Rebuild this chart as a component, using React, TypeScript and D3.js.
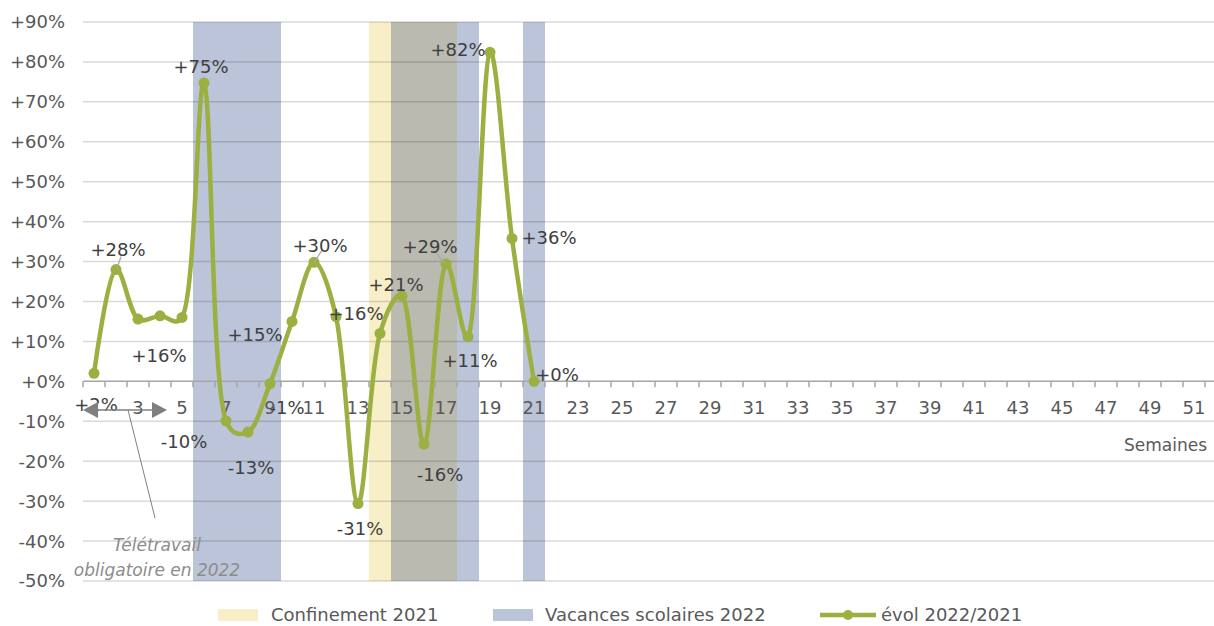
import React, { useEffect, useRef } from 'react';
import * as d3 from 'd3';

// semaines 1..52
const weeks = d3.range(1, 53);
// évolution 2022/2021 (%) semaines 1 à 21
const evol = [2, 28, 15.6, 16.4, 16, 74.7, -9.9, -12.7, -0.6, 15, 29.8, 16.2, -30.6, 12, 21.4, -15.7, 29.4, 11.2, 82.4, 35.8, 0];
const confinementWeeks = [14, 15, 16, 17];
const vacancesWeeks = [6, 7, 8, 9, 15, 16, 17, 18, 21];
const yTicks = [90, 80, 70, 60, 50, 40, 30, 20, 10, 0, -10, -20, -30, -40, -50];

// position des étiquettes : [semaine, dx, dy]
const labelOffsets = [
  [1, 2, 31], [2, 2, -20], [4, -1, 40], [6, -3, -17], [7, -42, 21], [8, 3, 35],
  [9, 17, 24], [10, -37, 13], [11, 6, -17], [12, 20, -3], [13, 2, 25], [15, -6, -11],
  [16, 16, 30], [17, -16, -17], [18, 2, 24], [19, -32, -3], [20, 37, -1], [21, 23, -7],
];
const leaderLines = [
  [2, 1, -1, 5, -13], [11, 0, 0, 8, -12], [17, -1, 0, -13, -15],
];

const width = 1214;
const height = 626;
const left = 83;
const top = 22;
const bottom = 581;

const green = '#9bb040';
const yellow = '#f8eec7';
const blue = '#bbc4d8';
const overlap = '#babab0';
const font = 'DejaVu Sans, sans-serif';

export default function App() {
  const ref = useRef<SVGSVGElement>(null);

  useEffect(() => {
    const svg = d3.select(ref.current);
    svg.selectAll('*').remove();

    const x = d3.scaleBand<number>().domain(weeks).range([left, left + weeks.length * 22]);
    const y = d3.scaleLinear().domain([-50, 90]).range([bottom, top]);
    const cx = (w: number) => (x(w) as number) + x.bandwidth() / 2;
    const pct = (v: number) => (Math.round(v) >= 0 ? '+' : '-') + Math.abs(Math.round(v)) + '%';

    // bandes
    svg
      .append('g')
      .selectAll('rect')
      .data(confinementWeeks.filter((w) => !vacancesWeeks.includes(w)))
      .enter()
      .append('rect')
      .attr('x', (w) => x(w) as number)
      .attr('y', top)
      .attr('width', x.bandwidth())
      .attr('height', bottom - top)
      .attr('fill', yellow);

    svg
      .append('g')
      .selectAll('rect')
      .data(vacancesWeeks)
      .enter()
      .append('rect')
      .attr('x', (w) => x(w) as number)
      .attr('y', top)
      .attr('width', x.bandwidth())
      .attr('height', bottom - top)
      .attr('fill', (w) => (confinementWeeks.includes(w) ? overlap : blue));

    // grille
    svg
      .append('g')
      .selectAll('line')
      .data(yTicks.filter((t) => t !== 0))
      .enter()
      .append('line')
      .attr('x1', left)
      .attr('x2', width)
      .attr('y1', (t) => y(t))
      .attr('y2', (t) => y(t))
      .attr('stroke', '#000')
      .attr('stroke-opacity', 0.15)
      .attr('stroke-width', 1.5);

    // axe Y
    svg
      .append('g')
      .selectAll('text')
      .data(yTicks)
      .enter()
      .append('text')
      .attr('x', 65)
      .attr('y', (t) => y(t))
      .attr('dy', '0.36em')
      .attr('text-anchor', 'end')
      .attr('font-family', font)
      .attr('font-size', 18)
      .attr('fill', '#595959')
      .text((t) => (t < 0 ? '-' : '+') + Math.abs(t) + '%');

    // axe X
    const xAxis = svg.append('g').attr('transform', 'translate(0,' + y(0) + ')');
    xAxis
      .append('line')
      .attr('x1', left)
      .attr('x2', width)
      .attr('stroke', '#a6a6a6')
      .attr('stroke-width', 1.5);
    xAxis
      .selectAll('line.tick')
      .data(weeks.concat([weeks.length + 1]))
      .enter()
      .append('line')
      .attr('class', 'tick')
      .attr('x1', (w) => left + (w - 1) * x.step())
      .attr('x2', (w) => left + (w - 1) * x.step())
      .attr('y1', 0)
      .attr('y2', 6)
      .attr('stroke', '#a6a6a6')
      .attr('stroke-width', 1.5);
    xAxis
      .selectAll('text')
      .data(weeks.filter((w) => w % 2 === 1 && w > 1))
      .enter()
      .append('text')
      .attr('x', (w) => cx(w))
      .attr('y', 33)
      .attr('text-anchor', 'middle')
      .attr('font-family', font)
      .attr('font-size', 18)
      .attr('fill', '#595959')
      .text((w) => w);

    svg
      .append('text')
      .attr('x', 1207)
      .attr('y', 451)
      .attr('text-anchor', 'end')
      .attr('font-family', font)
      .attr('font-size', 17)
      .attr('fill', '#595959')
      .text('Semaines');

    // courbe lissée
    const line = d3
      .line<number>()
      .x((d, i) => cx(weeks[i]))
      .y((d) => y(d))
      .curve(d3.curveCatmullRom.alpha(0.35));

    svg
      .append('path')
      .datum(evol)
      .attr('d', line)
      .attr('fill', 'none')
      .attr('stroke', green)
      .attr('stroke-width', 4.5)
      .attr('stroke-linejoin', 'round');

    svg
      .append('g')
      .selectAll('circle')
      .data(evol)
      .enter()
      .append('circle')
      .attr('cx', (d, i) => cx(weeks[i]))
      .attr('cy', (d) => y(d))
      .attr('r', 5.5)
      .attr('fill', green);

    // lignes de rappel
    svg
      .append('g')
      .selectAll('line')
      .data(leaderLines)
      .enter()
      .append('line')
      .attr('x1', (l) => cx(l[0]) + l[1])
      .attr('y1', (l) => y(evol[l[0] - 1]) + l[2])
      .attr('x2', (l) => cx(l[0]) + l[3])
      .attr('y2', (l) => y(evol[l[0] - 1]) + l[4])
      .attr('stroke', '#a6a6a6')
      .attr('stroke-width', 1.2);

    // étiquettes
    svg
      .append('g')
      .selectAll('text')
      .data(labelOffsets)
      .enter()
      .append('text')
      .attr('x', (l) => cx(l[0]) + l[1])
      .attr('y', (l) => y(evol[l[0] - 1]) + l[2])
      .attr('dy', '0.36em')
      .attr('text-anchor', 'middle')
      .attr('font-family', font)
      .attr('font-size', 18)
      .attr('fill', '#404040')
      .text((l) => pct(evol[l[0] - 1]));

    // annotation télétravail
    const ann = svg.append('g').attr('fill', '#7f7f7f');
    ann
      .append('line')
      .attr('x1', left + 12)
      .attr('x2', 167 - 12)
      .attr('y1', 410)
      .attr('y2', 410)
      .attr('stroke', '#7f7f7f')
      .attr('stroke-width', 1.5);
    ann.append('path').attr('d', 'M' + left + ',410 L' + (left + 15) + ',402 L' + (left + 15) + ',418 Z');
    ann.append('path').attr('d', 'M167,410 L152,402 L152,418 Z');
    ann
      .append('line')
      .attr('x1', 128)
      .attr('y1', 410)
      .attr('x2', 155)
      .attr('y2', 518)
      .attr('stroke', '#7f7f7f')
      .attr('stroke-width', 1);
    ann
      .append('text')
      .attr('x', 157)
      .attr('y', 551)
      .attr('text-anchor', 'middle')
      .attr('font-family', font)
      .attr('font-style', 'italic')
      .attr('font-size', 17)
      .attr('fill', '#8c8c8c')
      .text('Télétravail');
    ann
      .append('text')
      .attr('x', 157)
      .attr('y', 576)
      .attr('text-anchor', 'middle')
      .attr('font-family', font)
      .attr('font-style', 'italic')
      .attr('font-size', 17)
      .attr('fill', '#8c8c8c')
      .text('obligatoire en 2022');

    // légende
    const legend = svg.append('g').attr('font-family', font).attr('font-size', 18).attr('fill', '#595959');
    legend.append('rect').attr('x', 218).attr('y', 609).attr('width', 40).attr('height', 12).attr('fill', yellow);
    legend.append('text').attr('x', 271).attr('y', 615).attr('dy', '0.36em').text('Confinement 2021');
    legend.append('rect').attr('x', 493).attr('y', 609).attr('width', 40).attr('height', 12).attr('fill', blue);
    legend.append('text').attr('x', 545).attr('y', 615).attr('dy', '0.36em').text('Vacances scolaires 2022');
    legend
      .append('line')
      .attr('x1', 820)
      .attr('x2', 876)
      .attr('y1', 615)
      .attr('y2', 615)
      .attr('stroke', green)
      .attr('stroke-width', 4.5);
    legend.append('circle').attr('cx', 848).attr('cy', 615).attr('r', 5).attr('fill', green);
    legend.append('text').attr('x', 881).attr('y', 615).attr('dy', '0.36em').text('évol 2022/2021');
  }, []);

  return (
    <svg
      ref={ref}
      width={width}
      height={height}
      style={{ position: 'absolute', left: 0, top: 0, background: '#fff' }}
    />
  );
}
